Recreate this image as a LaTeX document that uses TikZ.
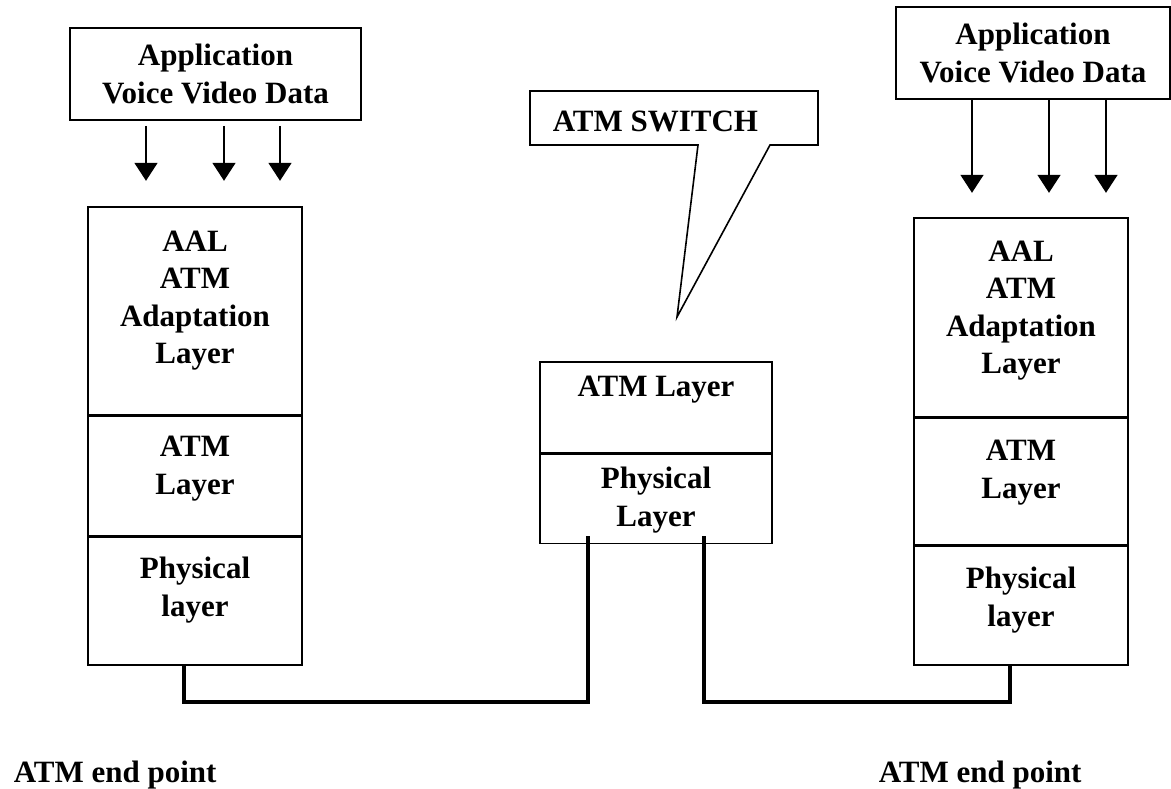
\documentclass[tikz,border=0pt]{standalone}
\usepackage{fontspec}
\setmainfont{Liberation Serif}
\usetikzlibrary{arrows.meta,calc}

\tikzset{every picture/.style={line width=1.6pt}}
\tikzset{
  lbl/.style={inner sep=0pt,align=center,font=\bfseries\fontsize{31}{37.5}\selectfont},
  appbox/.style={draw,rectangle,inner sep=0pt,minimum height=92pt,align=center,font=\bfseries\fontsize{31}{37.5}\selectfont},
  layerbox/.style={draw,rectangle,inner sep=0pt,anchor=north},
  feed/.style={-{Triangle[width=23pt,length=18pt]}},
  wire/.style={line width=4pt},
}

\begin{document}
\begin{tikzpicture}[x=1pt,y=1pt,yscale=-1,xscale=1]
\useasboundingbox (0,0) rectangle (1171,788);

% Application boxes
\node[appbox,minimum width=291pt] (appL) at (215.5,74) {Application\\Voice Video Data};
\node[appbox,minimum width=274pt] (appR) at (1033,53) {Application\\Voice Video Data};

% Arrows into the stacks
\foreach \dx in {-69.5,8.5,64.5}
  \draw[feed] ($(appL.south)+(\dx,5)$) -- ++(0,55);
\foreach \dx in {-61,16,73}
  \draw[feed] ($(appR.south)+(\dx,0)$) -- ++(0,93);

% Left end point stack
\node[layerbox,minimum width=214pt,minimum height=208pt] (aalL) at (195,206) {};
\node[layerbox,minimum width=214pt,minimum height=119pt] (atmL) at (aalL.south) {};
\node[layerbox,minimum width=214pt,minimum height=128pt] (phyL) at (atmL.south) {};
% Text Node
\node[lbl,anchor=north] (aalLt) at ($(aalL.north)+(0,24)$) {AAL\\ATM\\Adaptation\\Layer};
\node[lbl,anchor=north] (atmLt) at ($(atmL.north)+(0,20)$) {ATM\\Layer};
\node[lbl,anchor=north] (phyLt) at ($(phyL.north)+(0,20)$) {Physical\\layer};

% Right end point stack
\node[layerbox,minimum width=214pt,minimum height=199pt] (aalR) at (1021,217) {};
\node[layerbox,minimum width=214pt,minimum height=126pt] (atmR) at (aalR.south) {};
\node[layerbox,minimum width=214pt,minimum height=119pt] (phyR) at (atmR.south) {};
% Text Node
\node[lbl,anchor=north] (aalRt) at ($(aalR.north)+(0,23)$) {AAL\\ATM\\Adaptation\\Layer};
\node[lbl,anchor=north] (atmRt) at ($(atmR.north)+(0,22)$) {ATM\\Layer};
\node[lbl,anchor=north] (phyRt) at ($(phyR.north)+(0,21)$) {Physical\\layer};

% Switch stack
\node[layerbox,minimum width=232pt,minimum height=91pt] (atmS) at (656,361) {};
\node[layerbox,minimum width=232pt,minimum height=89pt] (phyS) at (atmS.south) {};
% Text Node
\node[lbl,anchor=north] (atmSt) at ($(atmS.north)+(0,14)$) {ATM Layer};
\node[lbl,anchor=north] (phySt) at ($(phyS.north)+(0,13)$) {Physical\\Layer};

% Callout
\draw (530,91) -- (818,91) -- (818,145) -- (770,145) -- (677,317) -- (698,145) -- (530,145) -- cycle;
\node[lbl,anchor=base west] (swlbl) at (552,131) {ATM SWITCH};

% Links
\coordinate (dropL) at ($(phyL.south)+(-11,0)$);
\coordinate (upL) at ($(phyS.south)+(-68,-8)$);
\coordinate (upR) at ($(phyS.south)+(48,-8)$);
\coordinate (dropR) at ($(phyR.south)+(-11,0)$);
\draw[wire] (dropL) -- ++(0,36) -| (upL);
\draw[wire] (upR) |- ($(dropR)+(0,36)$) -- (dropR);

% Text Node
\node[lbl,anchor=base west] (endL) at (13,782) {ATM end point};
\node[lbl,anchor=base west] (endR) at (878,782) {ATM end point};

\end{tikzpicture}
\end{document}
